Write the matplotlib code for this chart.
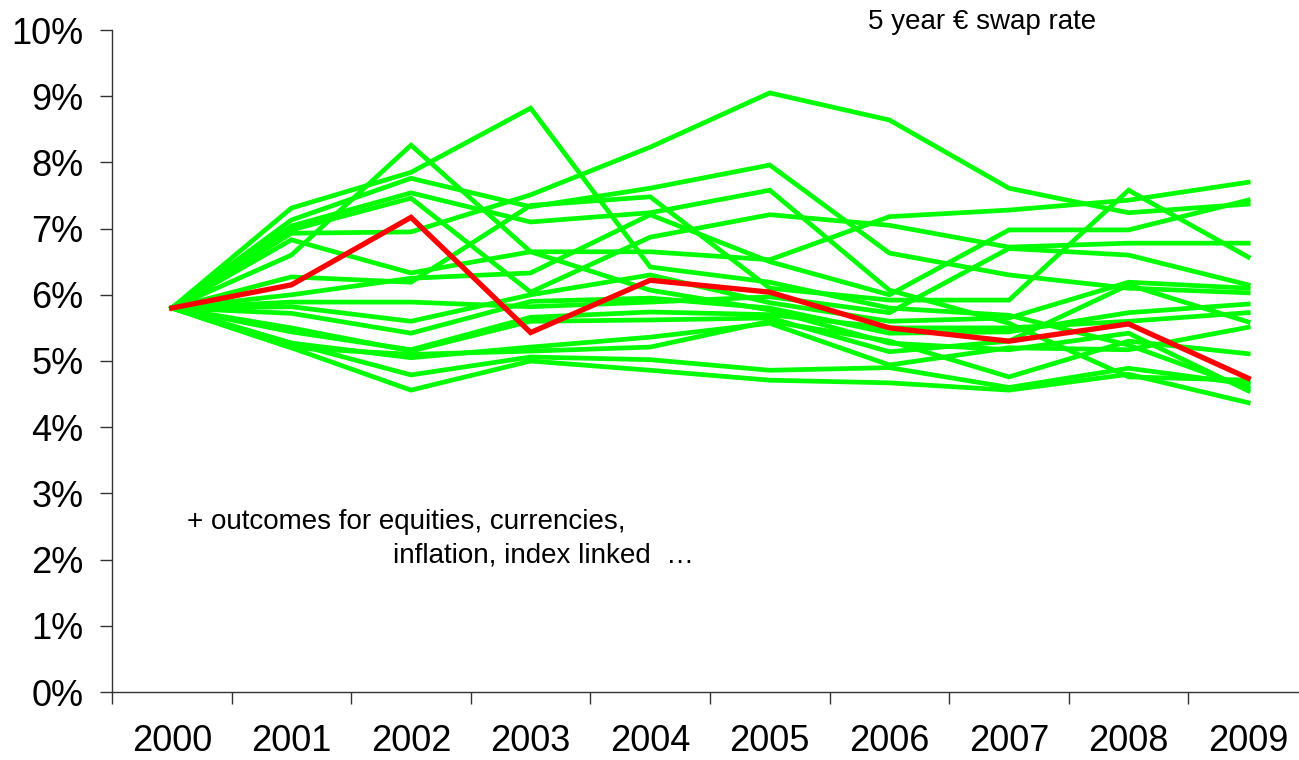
import numpy as np
import matplotlib.pyplot as plt
from matplotlib.ticker import FixedLocator, FuncFormatter

plt.rcParams['font.family'] = ['Liberation Sans', 'DejaVu Sans']

# ---------------------------------------------------------
# data: simulated 5 year EUR swap rate paths (in %)
# ---------------------------------------------------------
years = ['2000', '2001', '2002', '2003', '2004', '2005', '2006', '2007', '2008', '2009']

# the highlighted (red) scenario
red_path = [5.80, 6.15, 7.17, 5.43, 6.22, 6.04, 5.50, 5.30, 5.56, 4.74]

# the other scenarios (green)
g01 = [5.80, 7.31, 7.85, 8.82, 6.42, 6.19, 5.80, 5.69, 5.24, 4.59]
g02 = [5.80, 6.93, 6.95, 7.51, 8.23, 9.05, 8.64, 7.61, 7.24, 7.37]
g03 = [5.80, 6.60, 8.26, 6.65, 6.07, 5.77, 5.27, 5.17, 5.42, 4.55]
g04 = [5.80, 7.13, 7.76, 7.33, 7.61, 7.96, 6.63, 6.30, 6.10, 6.03]
g05 = [5.80, 7.04, 7.54, 7.10, 7.24, 7.58, 6.07, 5.57, 4.76, 4.71]
g06 = [5.80, 6.98, 7.46, 6.04, 6.87, 7.21, 7.05, 6.72, 6.78, 6.78]
g07 = [5.80, 6.83, 6.33, 6.65, 6.65, 6.53, 7.18, 7.28, 7.43, 7.70]
g08 = [5.80, 6.27, 6.19, 7.35, 7.48, 6.10, 5.92, 5.92, 7.58, 6.57]
g09 = [5.80, 6.00, 6.25, 6.33, 7.21, 6.50, 6.00, 6.98, 6.98, 7.43]
g10 = [5.80, 5.89, 5.89, 5.82, 5.89, 5.97, 5.73, 6.70, 6.60, 6.15]
g11 = [5.80, 5.82, 5.60, 6.00, 6.30, 5.88, 5.60, 5.65, 6.19, 6.10]
g12 = [5.80, 5.72, 5.42, 5.90, 5.95, 5.80, 5.42, 5.44, 5.73, 5.86]
g13 = [5.80, 5.44, 5.17, 5.66, 5.74, 5.70, 5.50, 5.50, 5.60, 5.73]
g14 = [5.80, 5.50, 5.15, 5.60, 5.62, 5.65, 5.14, 5.30, 6.15, 5.59]
g15 = [5.80, 5.27, 5.05, 5.21, 5.36, 5.57, 4.94, 5.20, 5.17, 5.51]
g16 = [5.80, 5.20, 5.10, 5.15, 5.21, 5.60, 5.30, 4.76, 5.30, 5.11]
g17 = [5.80, 5.27, 4.79, 5.06, 5.02, 4.86, 4.90, 4.60, 4.89, 4.65]
g18 = [5.80, 5.20, 4.56, 5.00, 4.86, 4.71, 4.67, 4.56, 4.80, 4.37]
green_paths = [g01, g02, g03, g04, g05, g06, g07, g08, g09, g10,
               g11, g12, g13, g14, g15, g16, g17, g18]

y_ticks = [0, 1, 2, 3, 4, 5, 6, 7, 8, 9, 10]

title_text = '5 year \u20ac swap rate'
note_line1 = '+ outcomes for equities, currencies,'
note_line2 = 'inflation, index linked  \u2026'

# ---------------------------------------------------------
# plot
# ---------------------------------------------------------
W, H = 1299, 760
fig = plt.figure(figsize=(W / 100, H / 100), dpi=100)
# axes runs a bit past the right edge, like the original
ax = fig.add_axes([112 / W, 68 / H, (1308 - 112) / W, (692 - 30) / H])

x = np.arange(len(years))
for path in green_paths:
    ax.plot(x, path, color='#00ff00', lw=3.4, solid_joinstyle='miter', zorder=2)
ax.plot(x, red_path, color='#ff0000', lw=3.8, solid_joinstyle='miter', zorder=3)

ax.set_xlim(-0.5, len(years) - 0.5)
ax.set_ylim(0, 10)

for side in ['top', 'right']:
    ax.spines[side].set_visible(False)
for side in ['left', 'bottom']:
    ax.spines[side].set_color('#333333')
    ax.spines[side].set_linewidth(1.0)

# x: labels at category centres, tick marks at the boundaries
ax.set_xticks(x)
ax.set_xticklabels(years)
ax.xaxis.set_minor_locator(FixedLocator(np.arange(-0.5, len(years), 1.0)))
ax.tick_params(axis='x', which='major', length=0, pad=23, labelsize=26)
ax.tick_params(axis='x', which='minor', length=8.5, width=1.0,
               color='#333333', direction='out')

ax.set_yticks(y_ticks)
ax.yaxis.set_major_formatter(FuncFormatter(lambda v, p: '%d%%' % v))
ax.tick_params(axis='y', which='major', length=8.5, width=1.0, pad=12,
               labelsize=26, color='#333333', direction='out')

fig.text(868 / W, 1 - 22 / H, title_text, fontsize=20, ha='left', va='center')
fig.text(187 / W, 1 - 522 / H, note_line1, fontsize=20, ha='left', va='center')
fig.text(393 / W, 1 - 555 / H, note_line2, fontsize=20, ha='left', va='center')

fig.savefig('out.png', dpi=100)
